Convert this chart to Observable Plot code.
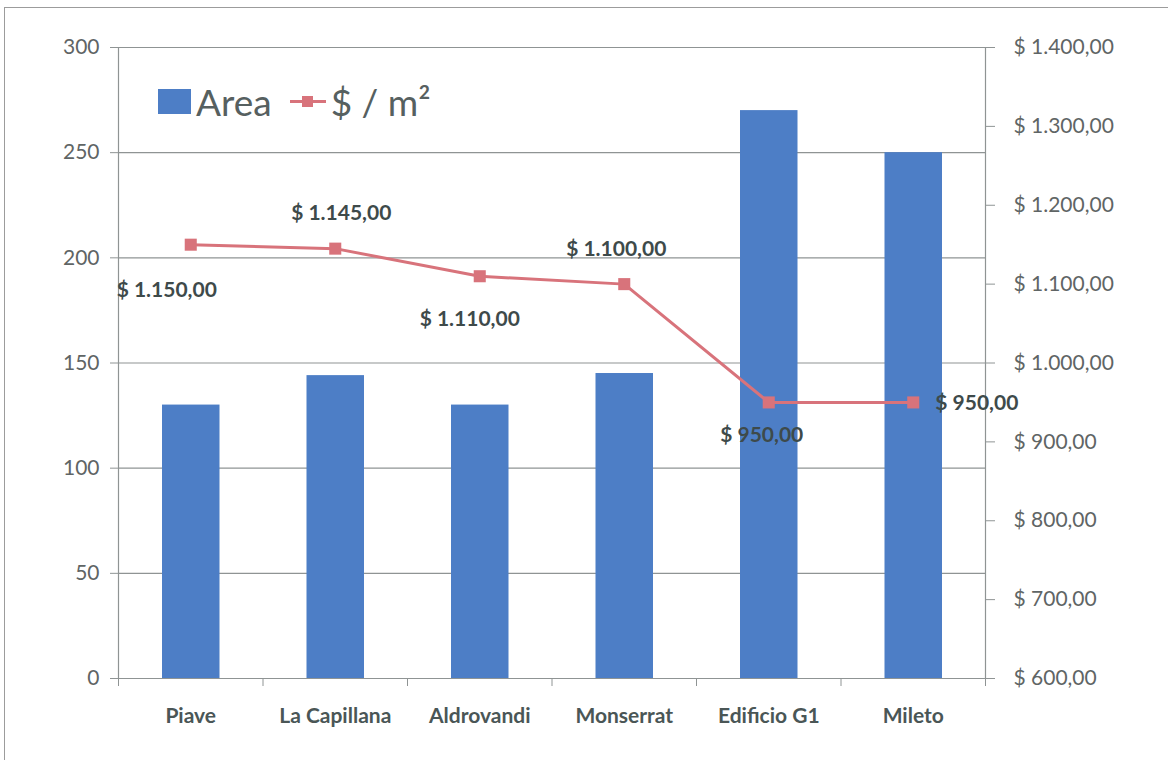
<!DOCTYPE html>
<html>
<head>
<meta charset="utf-8">
<script src="https://cdn.jsdelivr.net/npm/d3@7"></script>
<script src="https://cdn.jsdelivr.net/npm/@observablehq/plot@0.6"></script>
<style>
  body { margin: 0; background: #fff; font-family: Lato, "Open Sans", sans-serif; }
  #page { position: relative; width: 1168px; height: 760px; overflow: hidden; }
  #border { position: absolute; left: 4px; top: 7px; width: 1170px; height: 760px;
            border-top: 1.5px solid #9c9c9c; border-left: 1.5px solid #9c9c9c; pointer-events: none; }
  #chart { position: absolute; left: 0; top: 0; }
  #legend { position: absolute; left: 158px; top: 79px; display: flex; align-items: center;
            font-family: Lato, sans-serif; font-size: 37px; color: #566060; white-space: nowrap; }
  .sw { width: 33px; height: 25px; background: #4d7ec6; margin-right: 5px; }
  .ln { position: relative; width: 36px; height: 25px; margin: 0 5px 0 18px; }
  .ln:before { content: ""; position: absolute; left: 0; right: 0; top: 11px; height: 3px; background: #d8737b; }
  .ln:after { content: ""; position: absolute; left: 12px; top: 7px; width: 11px; height: 11px; background: #d8737b; }
</style>
</head>
<body>
<div id="page">
  <div id="chart"></div>
  <div id="border"></div>
  <div id="legend"><div class="sw"></div><span>Area</span><div class="ln"></div><span>$ / m²</span></div>
</div>
<script>
const categories = ["Piave", "La Capillana", "Aldrovandi", "Monserrat", "Edificio G1", "Mileto"];
const area = [130, 144, 130, 145, 270, 250];
const pricePerM2 = [1150, 1145, 1110, 1100, 950, 950];
const areaTicks = [0, 50, 100, 150, 200, 250, 300];
const priceTicks = [600, 700, 800, 900, 1000, 1100, 1200, 1300, 1400];
const priceDomain = [600, 1400];

// label placement (layout only): [dx, dy, anchor]
const labelPlacement = [[-24, 46, "middle"], [6, -35, "middle"], [-10, 43, "middle"], [-8, -35, "middle"], [-7, 33, "middle"], [22, 1, "start"]];

const es = d3.formatLocale({decimal: ",", thousands: ".", grouping: [3], currency: ["$ ", ""]});
const fmt = es.format("$,.2f");
const toLeft = p => (p - priceDomain[0]) / (priceDomain[1] - priceDomain[0]) * 300;
const fromLeft = v => Math.round(v / 300 * (priceDomain[1] - priceDomain[0]) + priceDomain[0]);

const rows = categories.map((c, i) => ({i, name: c, area: area[i], price: pricePerM2[i], py: toLeft(pricePerM2[i])}));

const BLUE = "#4d7ec6", RED = "#d8737b", GRID = "#8f9494", TXT = "#5f6565", LBL = "#3e4a4a";

const chart = Plot.plot({
  width: 1168,
  height: 760,
  marginLeft: 118,
  marginRight: 183,
  marginTop: 47,
  marginBottom: 82,
  style: {fontFamily: "Lato, sans-serif", background: "transparent"},
  x: {domain: [0, categories.length], axis: null},
  y: {domain: [0, 300], axis: null},
  marks: [
    Plot.gridY(areaTicks, {stroke: GRID, strokeOpacity: 1, strokeWidth: 1.2}),
    Plot.rectY(rows, {x1: d => d.i, x2: d => d.i + 1, y: "area", insetLeft: 44, insetRight: 43, fill: BLUE}),
    Plot.ruleX([0, categories.length], {stroke: GRID, strokeWidth: 1.2}),
    Plot.axisY(areaTicks, {anchor: "left", tickSize: 8, tickPadding: 11, fontSize: 21, color: TXT, stroke: GRID, label: null}),
    Plot.axisY(priceTicks.map(toLeft), {anchor: "right", tickSize: 9, tickPadding: 19, fontSize: 21, color: TXT, stroke: GRID,
      tickFormat: d => fmt(fromLeft(d)), label: null}),
    Plot.axisX(d3.range(categories.length + 1), {tickSize: 8, tickFormat: () => "", stroke: GRID, label: null}),
    Plot.axisX(d3.range(categories.length).map(i => i + 0.5), {tickSize: 0, tickPadding: 30, fontSize: 21, fontWeight: "bold",
      color: "#4a5656", tickFormat: d => categories[Math.floor(d)], label: null}),
    Plot.line(rows, {x: d => d.i + 0.5, y: "py", stroke: RED, strokeWidth: 3}),
    Plot.dot(rows, {x: d => d.i + 0.5, y: "py", symbol: "square", r: 6.8, fill: RED, stroke: null}),
    ...rows.map((r, k) => Plot.text([r], {
      x: d => d.i + 0.5, y: "py", text: d => fmt(d.price),
      dx: labelPlacement[k][0], dy: labelPlacement[k][1], textAnchor: labelPlacement[k][2],
      fontSize: 21, fontWeight: "bold", fill: LBL
    }))
  ]
});
document.getElementById("chart").appendChild(chart);
</script>
</body>
</html>
